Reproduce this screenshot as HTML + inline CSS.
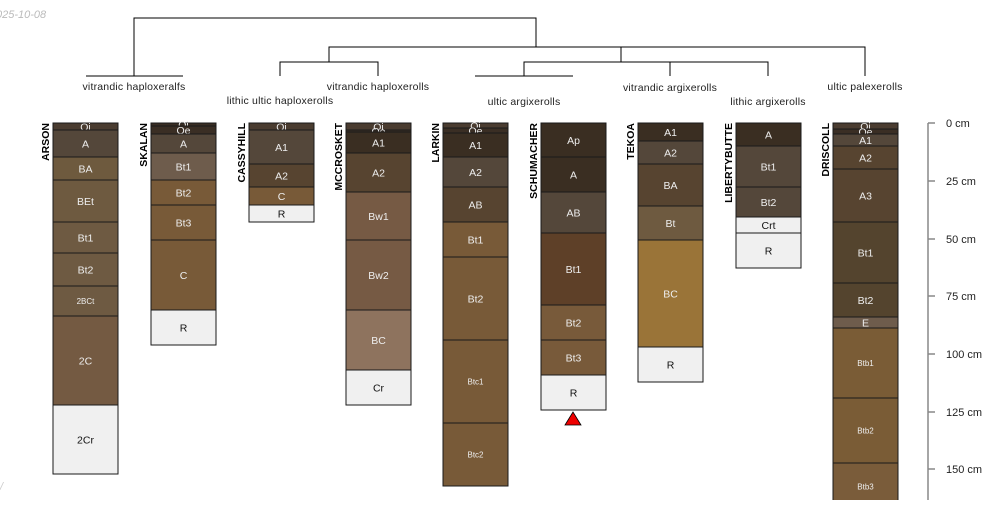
<!DOCTYPE html>
<html><head><meta charset="utf-8"><style>
body{margin:0;width:1000px;height:500px;overflow:hidden;background:#fff;font-family:"Liberation Sans",sans-serif}
</style></head><body>
<svg width="1000" height="500" xmlns="http://www.w3.org/2000/svg" font-family="Liberation Sans, sans-serif">
<text x="-4" y="18" font-size="11" fill="#bbb" font-style="italic">025-10-08</text>
<text x="0" y="490" font-size="11" fill="#ccc" font-style="italic">/</text>
<g stroke="#000" stroke-width="1" fill="none">
<path d="M134 76V18H536V47"/>
<path d="M329 62V47H865V76"/>
<path d="M621 47V62"/>
<path d="M280 76V62H378V76"/>
<path d="M524 76V62H768V76M670 62V76"/>
<path d="M86 76H183M475 76H573"/>
</g>
<g font-size="10.5" fill="#222" text-anchor="middle" letter-spacing="0.2">
<text x="134" y="90">vitrandic haploxeralfs</text>
<text x="280" y="104">lithic ultic haploxerolls</text>
<text x="378" y="90">vitrandic haploxerolls</text>
<text x="524" y="105">ultic argixerolls</text>
<text x="670" y="91">vitrandic argixerolls</text>
<text x="768" y="105">lithic argixerolls</text>
<text x="865" y="90">ultic palexerolls</text>
</g>
<g id="cols" stroke="#1a1a1a" stroke-width="1" font-size="10" text-anchor="middle"></g>
<g stroke="#888" stroke-width="1.5"><path d="M928 123V500"/>
<path d="M928 123h7M928 181h7M928 239h7M928 296h7M928 354h7M928 412h7M928 469h7"/></g>
<g font-size="11" fill="#222">
<text x="946" y="127">0 cm</text><text x="946" y="185">25 cm</text><text x="946" y="243">50 cm</text>
<text x="946" y="300">75 cm</text><text x="946" y="358">100 cm</text><text x="946" y="416">125 cm</text><text x="946" y="473">150 cm</text>
</g>
<polygon points="573,412 565,425 581,425" fill="#e00" stroke="#000" stroke-width="0.8"/>
</svg>
<script>
const P=[
["ARSON",53,[["Oi",123,130,"#4a3c30"],["A",130,157,"#54473a"],["BA",157,180,"#6e5a3e"],["BEt",180,222,"#6e5a40"],["Bt1",222,253,"#6e5a42"],["Bt2",253,286,"#6e5a42"],["2BCt",286,316,"#6e5a42",8],["2C",316,405,"#745a42"],["2Cr",405,474,"#f0f0f0"]]],
["SKALAN",151,[["Oi",123,126,"#3a2e24"],["Oe",126,134,"#3a2e24"],["A",134,153,"#54473a"],["Bt1",153,180,"#6e5c4c"],["Bt2",180,205,"#785a38"],["Bt3",205,240,"#785a38"],["C",240,310,"#785a38"],["R",310,345,"#f0f0f0"]]],
["CASSYHILL",249,[["Oi",123,130,"#4a3c30"],["A1",130,164,"#54473a"],["A2",164,187,"#574430"],["C",187,205,"#785a38"],["R",205,222,"#f0f0f0"]]],
["MCCROSKET",346,[["Oi",123,130,"#4a3c30"],["Oe",130,132,"#3a2e24"],["A1",132,153,"#3a2e22"],["A2",153,192,"#574430"],["Bw1",192,240,"#765a44"],["Bw2",240,310,"#765a44"],["BC",310,370,"#8e735e"],["Cr",370,405,"#f0f0f0"]]],
["LARKIN",443,[["Oi",123,128,"#4a3c30"],["Oe",128,133,"#3a2e24"],["A1",133,157,"#3a2e22"],["A2",157,187,"#54473a"],["AB",187,222,"#574430"],["Bt1",222,257,"#785a38"],["Bt2",257,340,"#785a38"],["Btc1",340,423,"#785a38",8],["Btc2",423,486,"#785a38",8]]],
["SCHUMACHER",541,[["Ap",123,157,"#3a2e22"],["A",157,192,"#3a2e22"],["AB",192,233,"#54473a"],["Bt1",233,305,"#5e4028"],["Bt2",305,340,"#785a3a"],["Bt3",340,375,"#785a3a"],["R",375,410,"#f0f0f0"]]],
["TEKOA",638,[["A1",123,141,"#3a2e22"],["A2",141,164,"#54473a"],["BA",164,206,"#574430"],["Bt",206,240,"#6e5a40"],["BC",240,347,"#9a7438"],["R",347,382,"#f0f0f0"]]],
["LIBERTYBUTTE",736,[["A",123,146,"#3a2e22"],["Bt1",146,187,"#54473a"],["Bt2",187,217,"#54473a"],["Crt",217,233,"#f0f0f0"],["R",233,268,"#f0f0f0"]]],
["DRISCOLL",833,[["Oi",123,129,"#4a3c30"],["Oe",129,134,"#3a2e24"],["A1",134,146,"#54473a"],["A2",146,169,"#574430"],["A3",169,222,"#574430"],["Bt1",222,283,"#54442e"],["Bt2",283,317,"#54442e"],["E",317,328,"#6e5c4c"],["Btb1",328,398,"#7a5c36",8],["Btb2",398,463,"#7a5c36",8],["Btb3",463,510,"#7a5c3a",8]]]];
const g=document.getElementById("cols");let h="";
for(const [n,x,L] of P){
 for(const [lab,t,b,c,fs] of L){
  const light=c=="#f0f0f0";
  h+=`<rect x="${x}" y="${t}" width="65" height="${b-t}" fill="${c}"/>`;
  const yy=Math.min((t+b)/2,497)+ (fs?3:4);
  h+=`<text x="${x+32.5}" y="${yy}" stroke="none" fill="${light?'#111':'#eee'}" font-size="${fs||10.5}">${lab}</text>`;
 }
 h+=`<text transform="translate(${x-4},123) rotate(-90)" text-anchor="end" stroke="none" font-weight="bold" font-size="10.5" fill="#000">${n}</text>`;
}
g.innerHTML=h;
</script>
</body></html>
